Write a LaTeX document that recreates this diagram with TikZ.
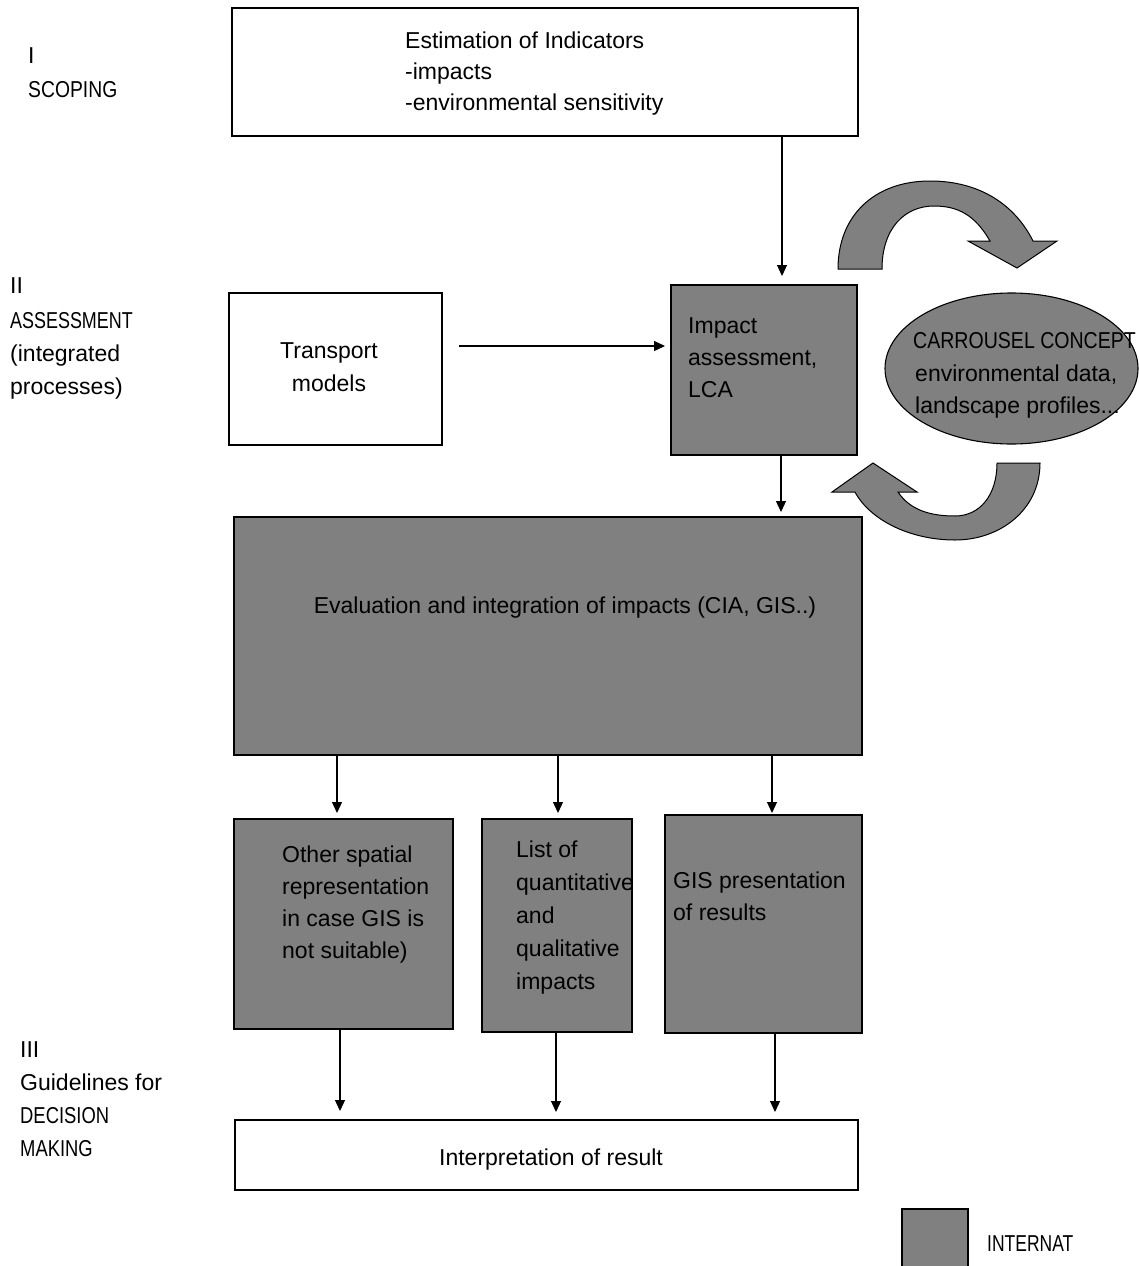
\documentclass[tikz,border=0pt]{standalone}
\usepackage{fontspec}
\usepackage{graphicx}
\setmainfont{Liberation Sans}
\usetikzlibrary{arrows.meta,shapes.geometric}
\definecolor{boxgray}{HTML}{808080}
\newcommand{\condense}[2]{\scalebox{#1}[1]{#2}}
\begin{document}
\begin{tikzpicture}[x=1pt,y=-1pt,
  wbox/.style={draw=black,line width=1.1pt,fill=white,inner sep=0pt,outer sep=0pt,anchor=north west},
  gbox/.style={wbox,fill=boxgray},
  arr/.style={line width=1.2pt,-{Triangle[width=10pt,length=11pt]}},
  txt/.style={anchor=base west,inner sep=0pt,font=\fontsize{23}{33}\selectfont},
  ctxt/.style={txt,anchor=base},
  curv/.style={fill=boxgray,draw=black,line width=1pt}]
\useasboundingbox (0,0) rectangle (1139,1266);
\clip (0,0) rectangle (1139,1266);
\fill[white] (0,0) rectangle (1139,1266);

% left phase labels
\node[txt] (l1a) at (28,63) {I};
\node[txt] (l1b) at (28,97) {\condense{0.84}{SCOPING}};
\node[txt] (l2a) at (10,293) {II};
\node[txt] (l2b) at (10,328) {\condense{0.78}{ASSESSMENT}};
\node[txt] (l2c) at (10,361) {(integrated};
\node[txt] (l2d) at (10,394) {processes)};
\node[txt] (l3a) at (20,1057) {III};
\node[txt] (l3b) at (20,1090) {Guidelines for};
\node[txt] (l3c) at (20,1123) {\condense{0.8}{DECISION}};
\node[txt] (l3d) at (20,1156) {\condense{0.8}{MAKING}};

% boxes
\node[wbox,minimum width=626pt,minimum height=128pt] (top) at (232,8) {};
\node[wbox,minimum width=213pt,minimum height=152pt] (transport) at (229,293) {};
\node[gbox,minimum width=186pt,minimum height=170pt] (impact) at (671,285) {};
\node[draw=black,line width=1.1pt,fill=boxgray,ellipse,minimum width=253pt,minimum height=151pt,inner sep=0pt] (carr) at (1011.5,368.5) {};
\node[gbox,minimum width=628pt,minimum height=238pt] (eval) at (234,517) {};
\node[gbox,minimum width=219pt,minimum height=210pt] (boxa) at (234,819) {};
\node[gbox,minimum width=150pt,minimum height=213pt] (boxb) at (482,819) {};
\node[gbox,minimum width=197pt,minimum height=218pt] (boxc) at (665,815) {};
\node[wbox,minimum width=623pt,minimum height=70pt] (interp) at (235,1120) {};
\node[gbox,minimum width=66pt,minimum height=60pt] (legend) at (902,1209) {};

% texts
\node[txt] (tt1) at (405,48) {Estimation of Indicators};
\node[txt] (tt2) at (405,79) {-impacts};
\node[txt] (tt3) at (405,110) {-environmental sensitivity};
\node[ctxt] (tr1) at (329,358) {Transport};
\node[ctxt] (tr2) at (329,391) {models};
\node[txt] (ti1) at (688,333) {Impact};
\node[txt] (ti2) at (688,365) {assessment,};
\node[txt] (ti3) at (688,397) {LCA};
\node[txt] (tc1) at (913,348) {\condense{0.85}{CARROUSEL CONCEPT}};
\node[txt] (tc2) at (915,381) {environmental data,};
\node[txt] (tc3) at (915,413) {landscape profiles...};
\node[ctxt] (te1) at (565,613) {Evaluation and integration of impacts (CIA, GIS..)};
\node[txt] (ta1) at (282,862) {Other spatial};
\node[txt] (ta2) at (282,894) {representation};
\node[txt] (ta3) at (282,926) {in case GIS is};
\node[txt] (ta4) at (282,958) {not suitable)};
\node[txt] (tb1) at (516,857) {List of};
\node[txt] (tb2) at (516,890) {quantitative};
\node[txt] (tb3) at (516,923) {and};
\node[txt] (tb4) at (516,956) {qualitative};
\node[txt] (tb5) at (516,989) {impacts};
\node[txt] (tg1) at (673,888) {GIS presentation};
\node[txt] (tg2) at (673,920) {of results};
\node[ctxt] (tin) at (551,1165) {Interpretation of result};
\node[txt] (tleg) at (987,1251) {\condense{0.76}{INTERNAT}};

% connectors
\coordinate (x1) at (782,0);
\coordinate (x2) at (781,0);
\coordinate (xa) at (337,0);
\coordinate (xb) at (558,0);
\coordinate (xc) at (772,0);
\coordinate (xa2) at (340,0);
\coordinate (xb2) at (556,0);
\coordinate (xc2) at (775,0);
\coordinate (yh) at (0,346);
\draw[arr] (top.south -| x1) -- ([yshift=9pt]impact.north -| x1);
\draw[arr] ([xshift=17pt]transport.east |- yh) -- ([xshift=-6pt]impact.west |- yh);
\draw[arr] (impact.south -| x2) -- ([yshift=5pt]eval.north -| x2);
\draw[arr] (eval.south -| xa) -- ([yshift=6pt]boxa.north -| xa);
\draw[arr] (eval.south -| xb) -- ([yshift=6pt]boxb.north -| xb);
\draw[arr] (eval.south -| xc) -- ([yshift=2pt]boxc.north -| xc);
\draw[arr] (boxa.south -| xa2) -- ([yshift=9pt]interp.north -| xa2);
\draw[arr] (boxb.south -| xb2) -- ([yshift=8pt]interp.north -| xb2);
\draw[arr] (boxc.south -| xc2) -- ([yshift=8pt]interp.north -| xc2);

% carrousel curved arrows
\draw[curv] (838,269) .. controls (838,215) and (875,181) .. (930,181)
  .. controls (980,181) and (1015,205) .. (1033,241)
  -- (1057,241) -- (1017,268) -- (968,241) -- (990,241)
  .. controls (975,215) and (958,206) .. (934,206)
  .. controls (905,206) and (882,228) .. (882,269) -- cycle;
\draw[curv] (1040,463) .. controls (1040,510) and (1000,540) .. (955,540)
  .. controls (910,540) and (870,520) .. (855,492)
  -- (832,492) -- (873,463) -- (917,492) -- (898,492)
  .. controls (910,510) and (930,516) .. (955,516)
  .. controls (980,516) and (997,495) .. (997,463) -- cycle;
\end{tikzpicture}
\end{document}
